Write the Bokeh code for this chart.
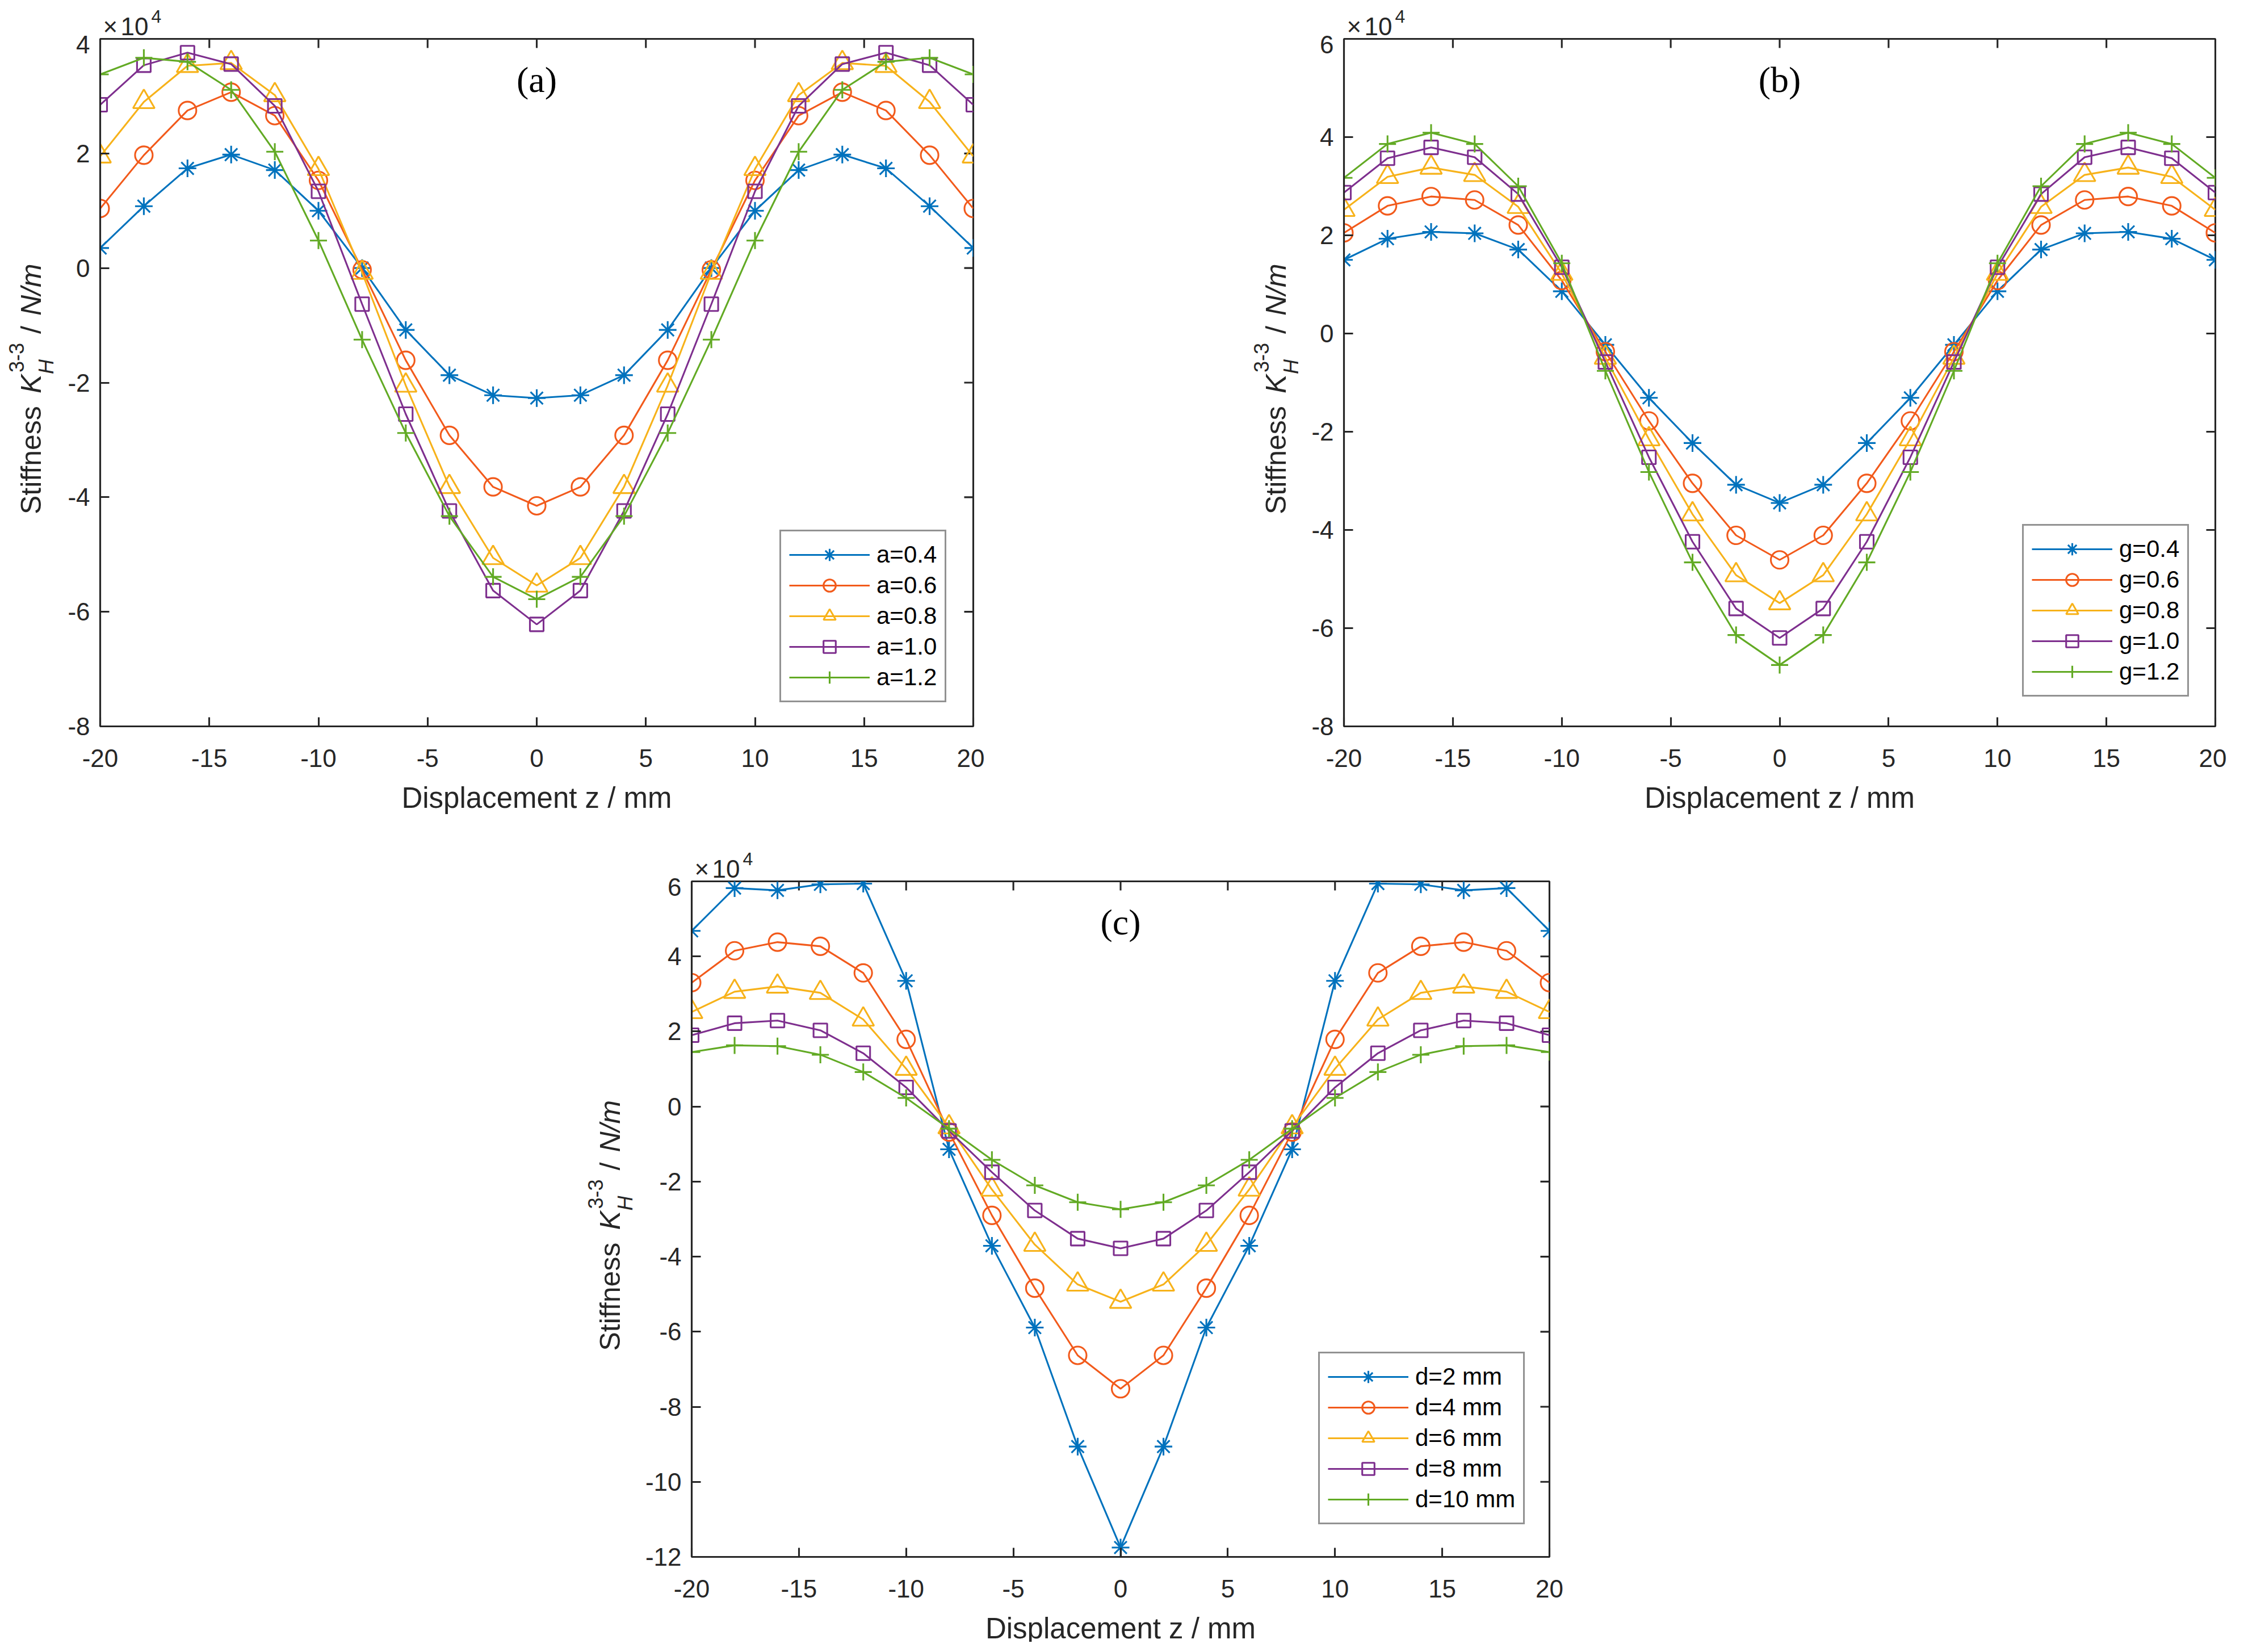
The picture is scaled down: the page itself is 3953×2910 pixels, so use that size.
import math
from bokeh.plotting import figure
from bokeh.models import (Label, Legend, LegendItem, FixedTicker,
                          Range1d, Spacer)
from bokeh.layouts import row, column
from bokeh.embed import file_html
from bokeh.resources import INLINE

# ---------------- data (stiffness in units of 1e4 N/m) ----------------
z_mm = [-20, -18, -16, -14, -12, -10, -8, -6, -4, -2, 0,
        2, 4, 6, 8, 10, 12, 14, 16, 18, 20]

# panel (a)
a_names = ["a=0.4", "a=0.6", "a=0.8", "a=1.0", "a=1.2"]
a_04 = [0.35, 1.08, 1.74, 1.98, 1.71, 1.00, 0.00, -1.08, -1.87, -2.22, -2.27,
        -2.22, -1.87, -1.08, 0.00, 1.00, 1.71, 1.98, 1.74, 1.08, 0.35]
a_06 = [1.04, 1.97, 2.75, 3.07, 2.66, 1.53, -0.03, -1.61, -2.92, -3.82, -4.15,
        -3.82, -2.92, -1.61, -0.03, 1.53, 2.66, 3.07, 2.75, 1.97, 1.04]
a_08 = [1.95, 2.90, 3.53, 3.58, 3.02, 1.73, -0.08, -2.05, -3.82, -5.06, -5.54,
        -5.06, -3.82, -2.05, -0.08, 1.73, 3.02, 3.58, 3.53, 2.90, 1.95]
a_10 = [2.85, 3.54, 3.76, 3.56, 2.83, 1.34, -0.63, -2.55, -4.24, -5.63, -6.22,
        -5.63, -4.24, -2.55, -0.63, 1.34, 2.83, 3.56, 3.76, 3.54, 2.85]
a_12 = [3.38, 3.67, 3.60, 3.11, 2.03, 0.48, -1.25, -2.88, -4.33, -5.39, -5.78,
        -5.39, -4.33, -2.88, -1.25, 0.48, 2.03, 3.11, 3.60, 3.67, 3.38]

# panel (b)
g_names = ["g=0.4", "g=0.6", "g=0.8", "g=1.0", "g=1.2"]
g_04 = [1.50, 1.93, 2.07, 2.04, 1.71, 0.86, -0.23, -1.31, -2.23, -3.08, -3.45,
        -3.08, -2.23, -1.31, -0.23, 0.86, 1.71, 2.04, 2.07, 1.93, 1.50]
g_06 = [2.05, 2.60, 2.79, 2.72, 2.21, 1.08, -0.37, -1.78, -3.05, -4.11, -4.61,
        -4.11, -3.05, -1.78, -0.37, 1.08, 2.21, 2.72, 2.79, 2.60, 2.05]
g_08 = [2.52, 3.19, 3.38, 3.23, 2.58, 1.22, -0.49, -2.15, -3.68, -4.92, -5.49,
        -4.92, -3.68, -2.15, -0.49, 1.22, 2.58, 3.23, 3.38, 3.19, 2.52]
g_10 = [2.87, 3.57, 3.79, 3.59, 2.84, 1.35, -0.58, -2.52, -4.24, -5.60, -6.20,
        -5.60, -4.24, -2.52, -0.58, 1.35, 2.84, 3.59, 3.79, 3.57, 2.87]
g_12 = [3.17, 3.86, 4.09, 3.86, 3.00, 1.43, -0.76, -2.82, -4.66, -6.14, -6.75,
        -6.14, -4.66, -2.82, -0.76, 1.43, 3.00, 3.86, 4.09, 3.86, 3.17]

# panel (c)
d_names = ["d=2 mm", "d=4 mm", "d=6 mm", "d=8 mm", "d=10 mm"]
d_2 = [4.68, 5.82, 5.76, 5.92, 5.94, 3.35, -1.14, -3.71, -5.89, -9.06, -11.75,
       -9.06, -5.89, -3.71, -1.14, 3.35, 5.94, 5.92, 5.76, 5.82, 4.68]
d_4 = [3.30, 4.15, 4.38, 4.27, 3.56, 1.79, -0.68, -2.90, -4.84, -6.63, -7.52,
       -6.63, -4.84, -2.90, -0.68, 1.79, 3.56, 4.27, 4.38, 4.15, 3.30]
d_6 = [2.52, 3.06, 3.20, 3.03, 2.32, 1.01, -0.55, -2.21, -3.68, -4.74, -5.20,
       -4.74, -3.68, -2.21, -0.55, 1.01, 2.32, 3.03, 3.20, 3.06, 2.52]
d_8 = [1.90, 2.22, 2.29, 2.03, 1.42, 0.51, -0.65, -1.75, -2.77, -3.52, -3.78,
       -3.52, -2.77, -1.75, -0.65, 0.51, 1.42, 2.03, 2.29, 2.22, 1.90]
d_10 = [1.45, 1.63, 1.61, 1.38, 0.92, 0.23, -0.59, -1.42, -2.10, -2.55, -2.74,
        -2.55, -2.10, -1.42, -0.59, 0.23, 0.92, 1.38, 1.61, 1.63, 1.45]

x_ticks = [-20, -15, -10, -5, 0, 5, 10, 15, 20]
a_yticks = [-8, -6, -4, -2, 0, 2, 4]
b_yticks = [-8, -6, -4, -2, 0, 2, 4, 6]
c_yticks = [-12, -10, -8, -6, -4, -2, 0, 2, 4, 6]

x_label = "Displacement z / mm"
scale_label = ["\u00d7", "10", "4"]

# ---------------- styles ----------------
COLORS = ["#0072BD", "#F25A1B", "#F7B21A", "#7E2F8E", "#62AA24"]
MARKERS = ["asterisk", "circle", "triangle", "square", "cross"]
MSIZES = [31, 31, 38, 24, 30]
AX = "#262626"
LW = 3.1
SANS = "Liberation Sans"


def strip(w, h, bl=0, br=0):
    s = figure(title=None, frame_width=w, frame_height=h, min_border=0,
               min_border_left=bl, min_border_right=br,
               min_border_top=0, min_border_bottom=0,
               x_range=Range1d(0, w), y_range=Range1d(0, h),
               x_axis_type=None, y_axis_type=None,
               output_backend="svg", toolbar_location=None,
               background_fill_color="white", border_fill_color="white")
    s.grid.visible = False
    s.outline_line_color = None
    return s


def txt(fig, text, x, y, fs, style="normal", angle=0.0, align="left",
        font=SANS, color=AX):
    fig.add_layout(Label(x=x, y=y, text=text, angle=angle, text_align=align,
                         text_baseline="alphabetic", text_font=font,
                         text_font_size=f"{fs}px", text_font_style=style,
                         text_color=color))


def make_block(series, names, yticks, tag, fw, fh, mbl, mbr, legend_loc,
               top_h, bot_h, xlab_y, ylab_w, ylab_x):
    mbt, mbb = 6, 95
    p = figure(title=None, frame_width=fw, frame_height=fh,
               min_border_left=mbl, min_border_right=mbr,
               min_border_top=mbt, min_border_bottom=mbb,
               x_range=Range1d(-20, 20), y_range=Range1d(yticks[0], yticks[-1]),
               output_backend="svg", toolbar_location=None,
               background_fill_color="white", border_fill_color="white")
    p.grid.visible = False
    p.outline_line_color = AX
    p.outline_line_width = LW

    for ax, ticks in ((p.xaxis[0], x_ticks), (p.yaxis[0], yticks)):
        ax.ticker = FixedTicker(ticks=ticks)
        ax.major_label_overrides = {t: str(t) for t in ticks}
        ax.axis_line_color = AX
        ax.axis_line_width = LW
        ax.major_tick_line_color = AX
        ax.major_tick_line_width = LW
        ax.major_tick_in = 16
        ax.major_tick_out = 0
        ax.minor_tick_line_color = None
        ax.major_label_text_font = SANS
        ax.major_label_text_font_size = "44px"
        ax.major_label_text_color = AX
    p.xaxis[0].major_label_standoff = 40
    p.yaxis[0].major_label_standoff = 18

    # mirrored inward ticks on the top and right edges
    p.ray(x=x_ticks, y=[yticks[-1]] * len(x_ticks), length=16,
          length_units="screen", angle=-math.pi / 2,
          line_color=AX, line_width=LW)
    p.ray(x=[20] * len(yticks), y=yticks, length=16,
          length_units="screen", angle=math.pi,
          line_color=AX, line_width=LW)

    items = []
    for vals, name, col, mk, ms in zip(series, names, COLORS, MARKERS, MSIZES):
        ln = p.line(z_mm, vals, line_color=col, line_width=LW)
        sc = p.scatter(z_mm, vals, marker=mk, size=ms, line_color=col,
                       line_width=LW, fill_color=None)
        items.append(LegendItem(label=name, renderers=[ln, sc]))

    leg = Legend(items=items, location=legend_loc,
                 glyph_width=142, glyph_height=54, label_standoff=12,
                 padding=14, spacing=0, margin=0,
                 label_text_font=SANS, label_text_font_size="42px",
                 label_text_color="black",
                 border_line_color=AX, border_line_width=LW,
                 background_fill_color="white", background_fill_alpha=1.0)
    p.add_layout(leg, "center")

    # panel tag inside the frame
    p.add_layout(Label(x=0, y=fh - 72, x_units="data", y_units="screen",
                       text=tag, text_align="center", text_baseline="alphabetic",
                       text_font="Liberation Serif", text_font_size="64px",
                       text_color="black"))

    ph = mbt + fh + mbb

    # x10^4 multiplier strip above the frame (same side borders as the plot)
    top = strip(fw, top_h, mbl, mbr)
    txt(top, scale_label[0], 5, 16, 44)
    txt(top, scale_label[1], 36, 16, 44)
    txt(top, scale_label[2], 90, 34, 32)

    # x-axis label strip below the axis
    bot = strip(fw, bot_h, mbl, mbr)
    txt(bot, x_label, fw / 2, xlab_y, 51, align="center")

    # y-axis label strip: Stiffness K_H^{3-3} / N/m
    total_h = top_h + ph + bot_h
    side = strip(ylab_w, total_h)
    frame_center_from_bottom = bot_h + mbb + fh / 2
    s0 = frame_center_from_bottom - 232
    pieces = [("Stiffness", 0, 0, 50, "normal"),
              ("K", 213, 0, 50, "italic"),
              ("H", 247, 27, 36, "italic"),
              ("3-3", 250, -26, 36, "normal"),
              ("/", 318, 0, 50, "normal"),
              ("N/m", 350, 0, 50, "italic")]
    for t, s, off, fs, style in pieces:
        txt(side, t, ylab_x + off, s0 + s, fs, style, angle=math.pi / 2)

    return row(side, column(top, p, bot))


block_a = make_block([a_04, a_06, a_08, a_10, a_12], a_names, a_yticks, "(a)",
                     1538, 1211, 80, 20, (1197, 42), 62, 98, 67, 96, 54)
block_b = make_block([g_04, g_06, g_08, g_10, g_12], g_names, b_yticks, "(b)",
                     1535, 1211, 80, 20, (1195, 52), 62, 98, 67, 96, 56)
block_c = make_block([d_2, d_4, d_6, d_8, d_10], d_names, c_yticks, "(c)",
                     1511, 1190, 100, 50, (1104, 57), 74, 55, 24, 96, 52)

layout = column(row(block_a, Spacer(width=457, height=10), block_b),
                row(Spacer(width=1022, height=10), block_c))

with open("out.html", "w") as f:
    f.write(file_html(layout, INLINE))
